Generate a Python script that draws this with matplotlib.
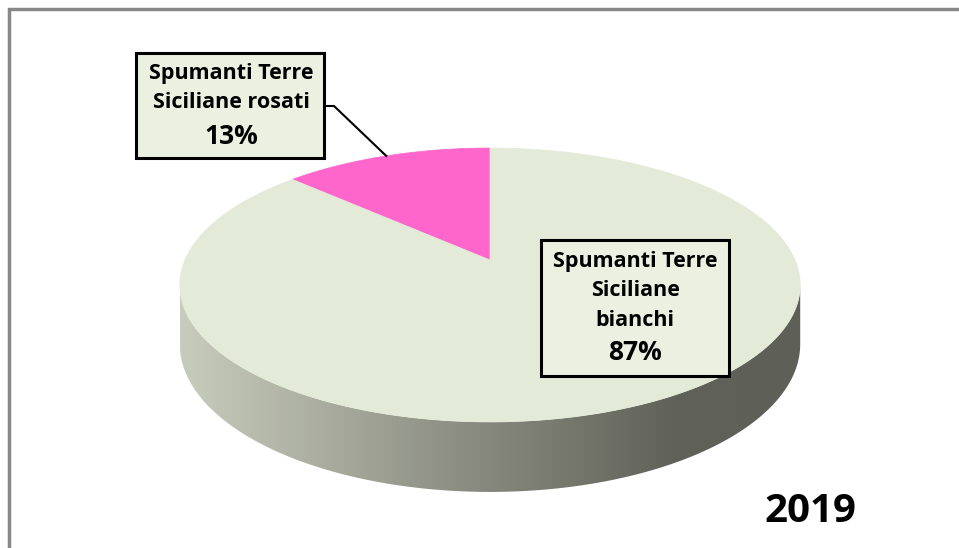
import numpy as np
import matplotlib
matplotlib.use("Agg")
import matplotlib.pyplot as plt
from matplotlib.patches import Polygon, Rectangle
from matplotlib.colors import LinearSegmentedColormap

# ---- data ----
categories = ["Spumanti Terre Siciliane rosati", "Spumanti Terre Siciliane bianchi"]
label_texts = ["Spumanti Terre\nSiciliane rosati", "Spumanti Terre\nSiciliane\nbianchi"]
values = [13, 87]
year_label = "2019"
colors = ["#FF66CC", "#E4EAD8"]

W, H = 959, 548
fig = plt.figure(figsize=(W / 100, H / 100), dpi=100)
ax = fig.add_axes([0, 0, 1, 1])
ax.set_xlim(0, W)
ax.set_ylim(H, 0)
ax.axis("off")

# perspective pie geometry (pixel space)
cx, cy = 490.0, 260.0
a, b, k = 305.0, 132.4, -0.1825
thick = 57.2


def proj(theta_deg, drop=0.0):
    t = np.radians(theta_deg)
    x = np.cos(t)
    z = -np.sin(t)
    d = 1 + k * z
    return cx + a * x / d, cy + b * z / d + drop / d


# side wall (front half)
th = np.linspace(190.5, 349.5, 300)
tx, ty = proj(th)
bx, by = proj(th[::-1], thick)
wall_xy = np.column_stack([np.concatenate([tx, bx]), np.concatenate([ty, by])])
wall = Polygon(wall_xy, closed=True, facecolor="none", edgecolor="none")
ax.add_patch(wall)
cmap = LinearSegmentedColormap.from_list(
    "wall",
    [(0.0, (200/255, 204/255, 188/255)),
     (0.45, (140/255, 142/255, 131/255)),
     (0.8, (96/255, 97/255, 88/255)),
     (1.0, (94/255, 95/255, 86/255))])
grad = np.linspace(0, 1, 512).reshape(1, -1)
x0, x1 = wall_xy[:, 0].min(), wall_xy[:, 0].max()
y0, y1 = wall_xy[:, 1].min(), wall_xy[:, 1].max()
im = ax.imshow(grad, cmap=cmap, extent=[x0, x1, y1, y0], aspect="auto",
               interpolation="bilinear", zorder=1)
im.set_clip_path(wall)
ax.set_xlim(0, W)
ax.set_ylim(H, 0)

# top face wedges
start = 90.0
mids = []
total = sum(values)
for v, c in zip(values, colors):
    span = 360.0 * v / total
    angs = np.linspace(start, start + span, 200)
    px, py = proj(angs)
    pts = np.column_stack([np.concatenate([[cx], px]), np.concatenate([[cy], py])])
    ax.add_patch(Polygon(pts, closed=True, facecolor=c, edgecolor=c, lw=0.5, zorder=2))
    mids.append(start + span / 2)
    start += span

font = ["Open Sans", "DejaVu Sans"]
box_fc = "#EBF0E1"
fs_lab, fs_pct = 15.5, 19

# label for pink slice
ax.add_patch(Rectangle((136, 53), 188, 105, facecolor=box_fc, edgecolor="black", lw=2.2, zorder=4))
mxp, myp = proj(mids[0])
ax.plot([324, 334, mxp], [106, 106, myp], color="black", lw=1.5, zorder=3)
l0 = label_texts[0].split("\n")
ax.text(231, 74, l0[0], ha="center", va="center", fontsize=fs_lab, fontweight="bold", family=font, zorder=5)
ax.text(231, 102, l0[1], ha="center", va="center", fontsize=fs_lab, fontweight="bold", family=font, zorder=5)
ax.text(231, 136, f"{values[0]}%", ha="center", va="center", fontsize=fs_pct, fontweight="bold", family=font, zorder=5)

# label for green slice
ax.add_patch(Rectangle((541, 240), 188, 136, facecolor=box_fc, edgecolor="black", lw=2.2, zorder=4))
l1 = label_texts[1].split("\n")
for yy, s in zip([261, 290, 320], l1):
    ax.text(635, yy, s, ha="center", va="center", fontsize=fs_lab, fontweight="bold", family=font, zorder=5)
ax.text(635, 353, f"{values[1]}%", ha="center", va="center", fontsize=fs_pct, fontweight="bold", family=font, zorder=5)

# year
ax.text(810, 511, year_label, ha="center", va="center", fontsize=29, fontweight="bold", family=font, zorder=5)

# frame (left and top)
ax.plot([9, 9, W], [H, 9, 9], color="#888888", lw=2.5, zorder=6, solid_joinstyle="miter")

fig.savefig("out.png", dpi=100, facecolor="white")
